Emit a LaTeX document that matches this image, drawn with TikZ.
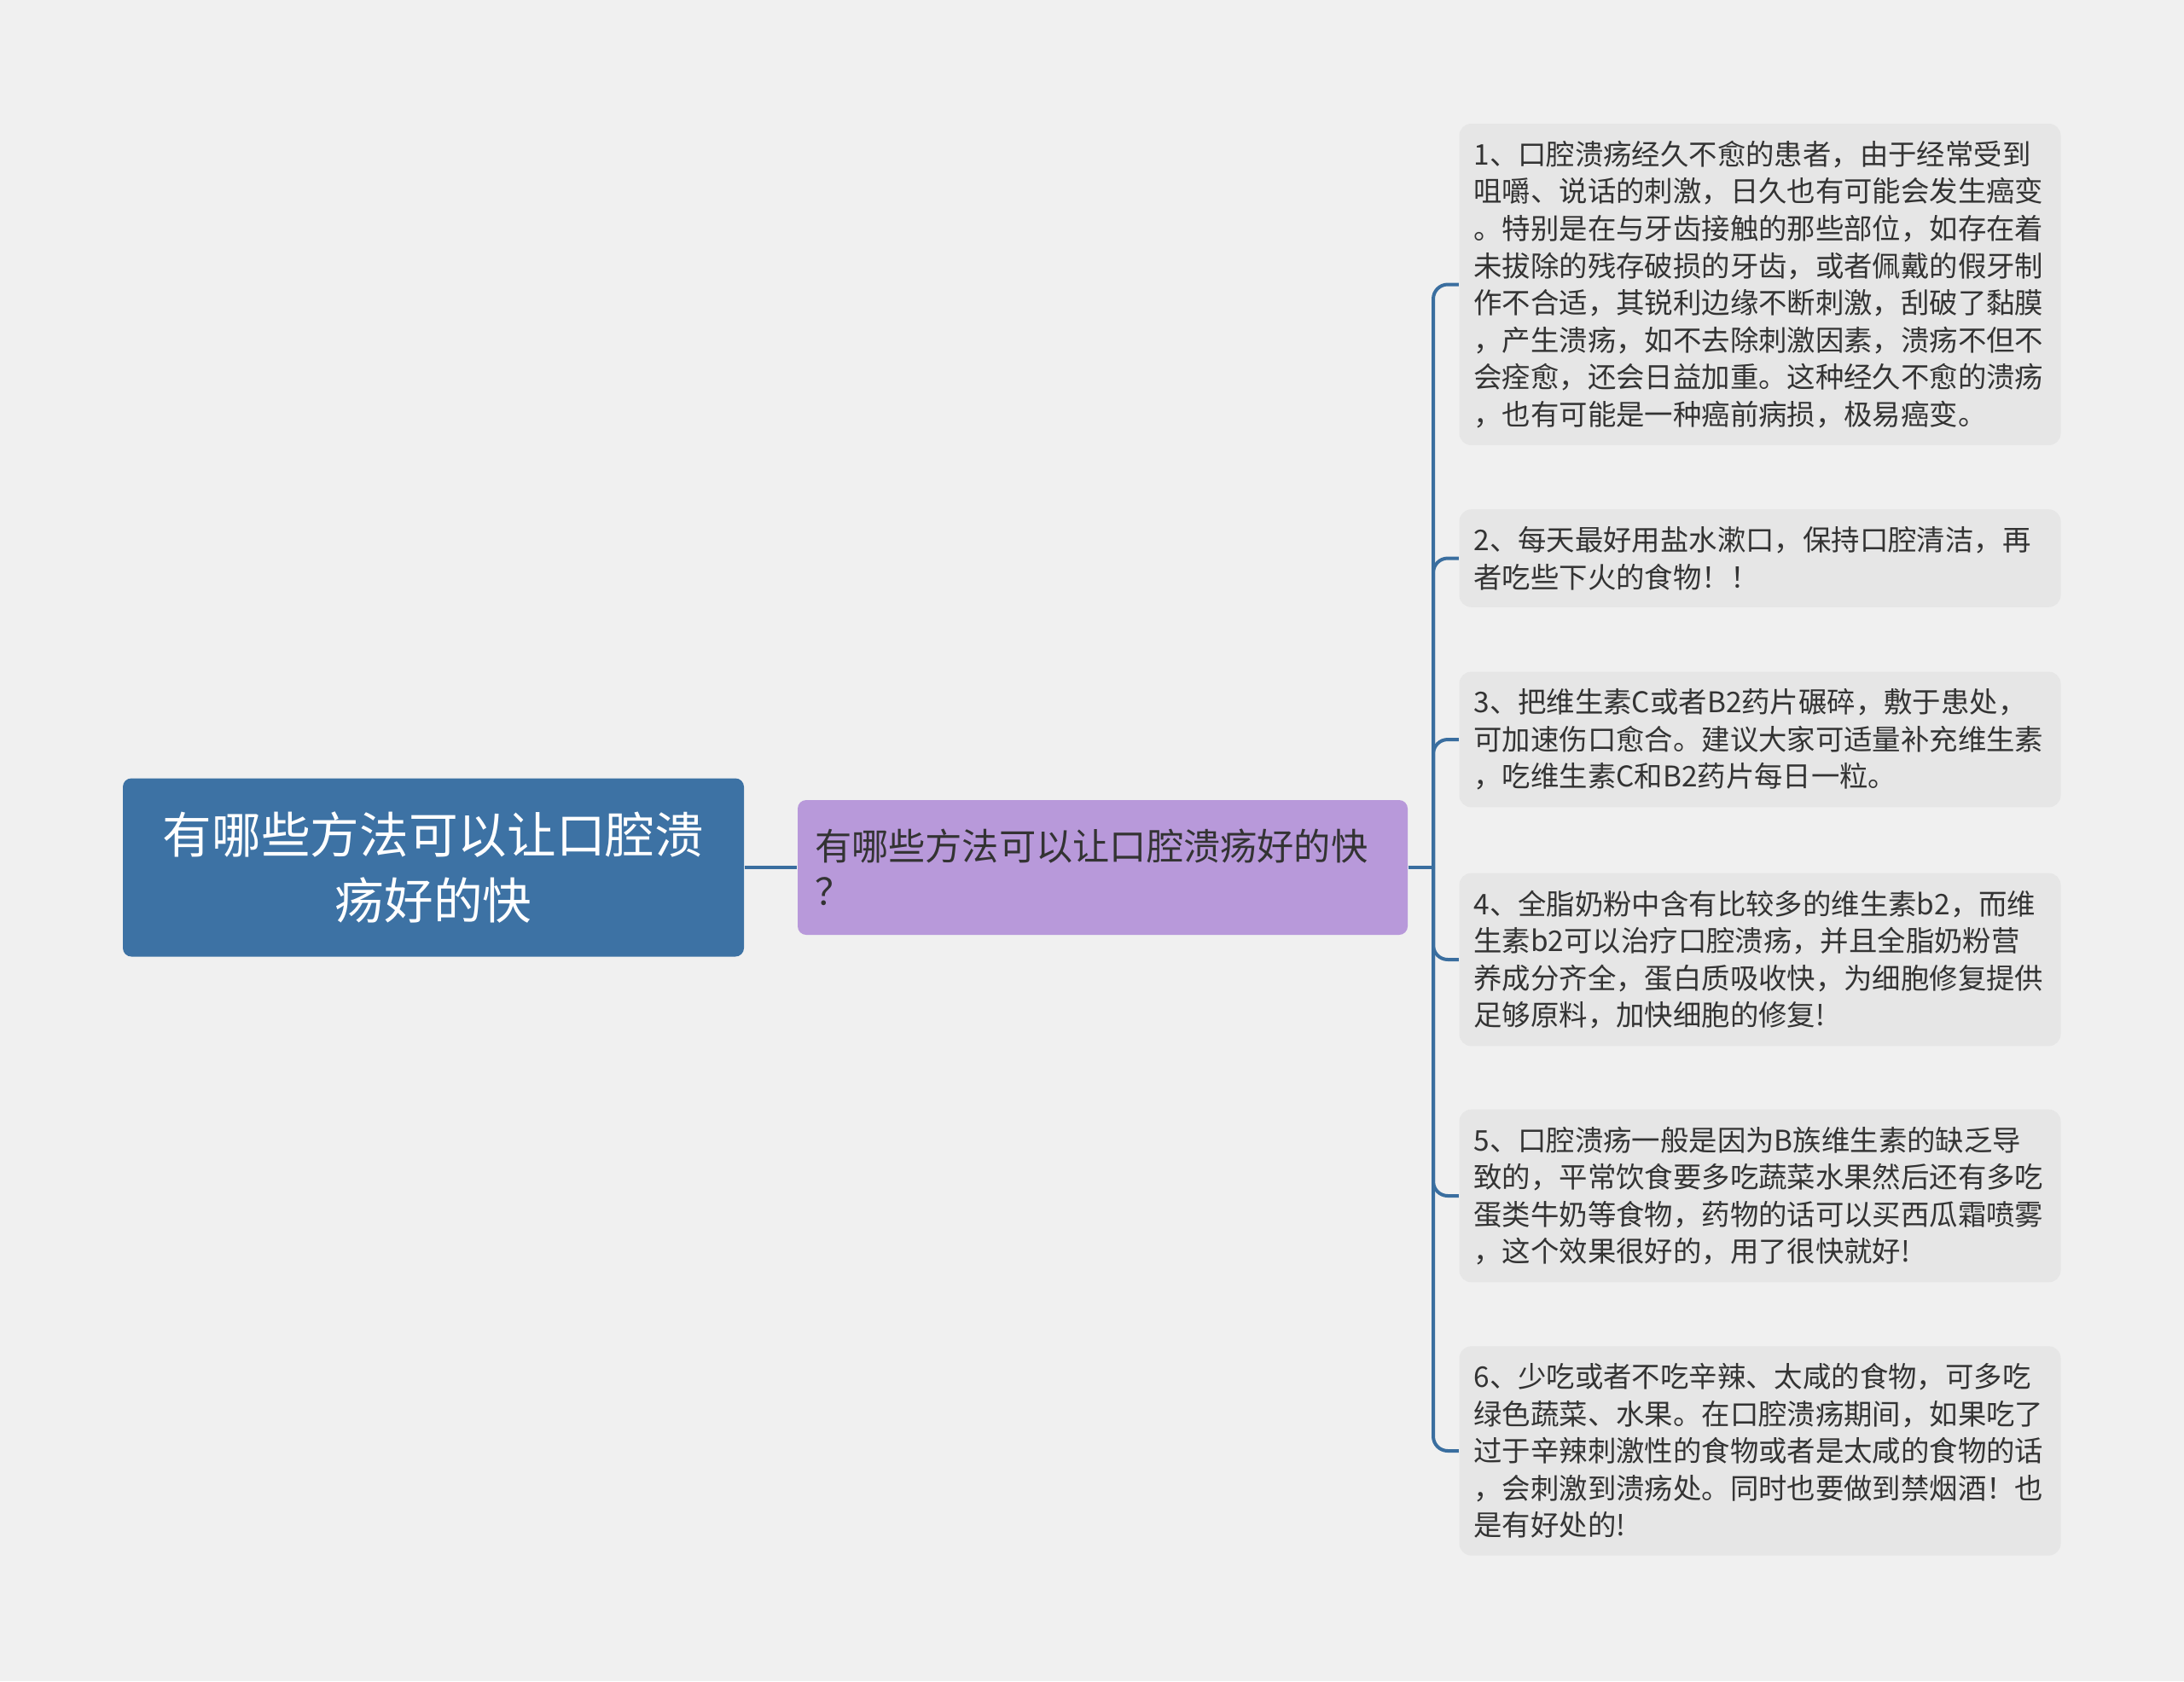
\documentclass[tikz,border=0pt]{standalone}
\usepackage{fontspec}
\newfontfamily\cjk{Noto Sans CJK SC}
\definecolor{bggray}{HTML}{F0F0F0}
\definecolor{rootblue}{HTML}{3D72A4}
\definecolor{linkblue}{HTML}{3A6E9F}
\definecolor{subpurple}{HTML}{B899DA}
\definecolor{leafgray}{HTML}{E6E6E6}
\definecolor{textdark}{HTML}{333333}

\begin{document}
\begin{tikzpicture}[
        rootbox/.style={fill=rootblue, rounded corners=0.1cm, text=white, align=center,
            minimum width=7.28cm, minimum height=2.09cm, font=\cjk\fontsize{16.4}{21.9}\selectfont},
        subbox/.style={fill=subpurple, rounded corners=0.1cm, text=textdark, align=left,
            text width=6.75cm, inner xsep=0.2cm, minimum height=1.58cm, font=\cjk\fontsize{12.3}{15.1}\selectfont},
        leafbox/.style={fill=leafgray, rounded corners=0.14cm, text=textdark, align=left,
            text width=6.71cm, inner xsep=0.17cm, inner ysep=0.2cm, font=\cjk\fontsize{9.5}{12.4}\selectfont},
        link/.style={draw=linkblue, line width=0.04cm}
    ]
        % Draw the background
        \fill[bggray] (0,0) rectangle (25.6,-19.71);

        % Add the main nodes
        \node[rootbox] (root) at (5.08,-10.17) {有哪些方法可以让口腔溃\\疡好的快};
        \node[subbox] (sub) at (12.925,-10.17) {有哪些方法可以让口腔溃疡好的快\\？};
        \coordinate (hub) at (16.80,-10.17);

        % Add the leaves
        \node[leafbox] (l1) at (20.63,-3.335) {1、口腔溃疡经久不愈的患者，由于经常受到\\咀嚼、说话的刺激，日久也有可能会发生癌变\\。特别是在与牙齿接触的那些部位，如存在着\\未拔除的残存破损的牙齿，或者佩戴的假牙制\\作不合适，其锐利边缘不断刺激，刮破了黏膜\\，产生溃疡，如不去除刺激因素，溃疡不但不\\会痊愈，还会日益加重。这种经久不愈的溃疡\\，也有可能是一种癌前病损，极易癌变。};
        \node[leafbox] (l2) at (20.63,-6.545) {2、每天最好用盐水漱口，保持口腔清洁，再\\者吃些下火的食物！！};
        \node[leafbox] (l3) at (20.63,-8.67) {3、把维生素C或者B2药片碾碎，敷于患处，\\可加速伤口愈合。建议大家可适量补充维生素\\，吃维生素C和B2药片每日一粒。};
        \node[leafbox] (l4) at (20.63,-11.25) {4、全脂奶粉中含有比较多的维生素b2，而维\\生素b2可以治疗口腔溃疡，并且全脂奶粉营\\养成分齐全，蛋白质吸收快，为细胞修复提供\\足够原料，加快细胞的修复!};
        \node[leafbox] (l5) at (20.63,-14.02) {5、口腔溃疡一般是因为B族维生素的缺乏导\\致的，平常饮食要多吃蔬菜水果然后还有多吃\\蛋类牛奶等食物，药物的话可以买西瓜霜喷雾\\，这个效果很好的，用了很快就好!};
        \node[leafbox] (l6) at (20.63,-17.01) {6、少吃或者不吃辛辣、太咸的食物，可多吃\\绿色蔬菜、水果。在口腔溃疡期间，如果吃了\\过于辛辣刺激性的食物或者是太咸的食物的话\\，会刺激到溃疡处。同时也要做到禁烟酒！也\\是有好处的!};

        % Draw the connectors
        \draw[link] (root.east) -- (sub.west);
        \draw[link] (sub.east) -- (hub);
        \foreach \n in {1,...,6} {
            \draw[link, rounded corners=0.17cm] (hub) |- (l\n.west);
        }
    \end{tikzpicture}
\end{document}
